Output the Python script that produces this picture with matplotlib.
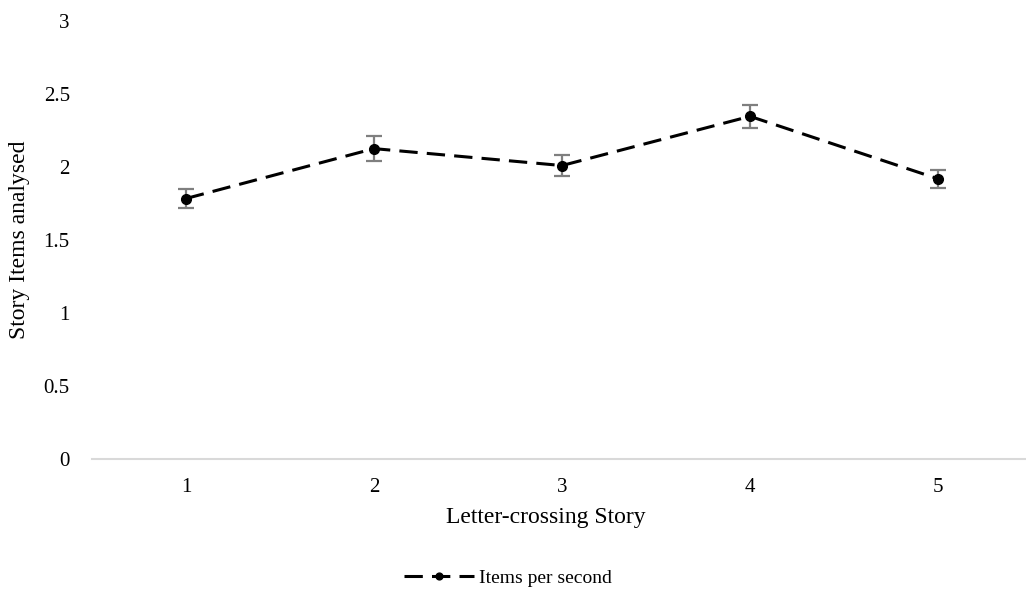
import numpy as np
import matplotlib.pyplot as plt

plt.rcParams["font.family"] = ["Liberation Serif", "DejaVu Serif"]

stories = [1, 2, 3, 4, 5]
items_per_second = [1.784, 2.126, 2.010, 2.347, 1.919]
errors = [0.064, 0.085, 0.072, 0.080, 0.063]
y_ticks = [0, 0.5, 1, 1.5, 2, 2.5, 3]
y_tick_labels = ["0", "0.5", "1", "1.5", "2", "2.5", "3"]

fig = plt.figure(figsize=(10.26, 6.04), dpi=100)
ax = fig.add_axes([92 / 1026, (604 - 459) / 604, 940 / 1026, 438 / 604])

ax.errorbar(stories, items_per_second, yerr=errors, fmt="none",
            ecolor="#7f7f7f", elinewidth=1.6, capsize=6, capthick=1.6, zorder=2)
ax.plot(stories, items_per_second, color="black", linestyle=(0, (6, 3)),
        linewidth=2.2, marker="o", markersize=7, label="Items per second", zorder=3)

ax.set_xlim(0.5, 5.5)
ax.set_ylim(0, 3)
ax.set_xticks(stories)
ax.set_yticks(y_ticks)
ax.set_yticklabels(y_tick_labels)
ax.tick_params(axis="both", length=0, labelsize=15, colors="black")
ax.tick_params(axis="x", pad=14)
ax.tick_params(axis="y", pad=16)

for side in ["top", "right", "left"]:
    ax.spines[side].set_visible(False)
ax.spines["bottom"].set_color("#d9d9d9")
ax.spines["bottom"].set_linewidth(1.5)

ax.set_xlabel("Letter-crossing Story", fontsize=17)
ax.set_ylabel("Story Items analysed", fontsize=17)
ax.xaxis.set_label_coords((546 - 92) / 940, -48 / 438)
ax.yaxis.set_label_coords(-62 / 940, 0.5)

ax.legend(loc="center", bbox_to_anchor=(508 / 1026, (604 - 578) / 604),
          bbox_transform=fig.transFigure, frameon=False, fontsize=14,
          handlelength=3.6, handletextpad=0.3, markerscale=0.7)

fig.savefig("out.png", dpi=100)
